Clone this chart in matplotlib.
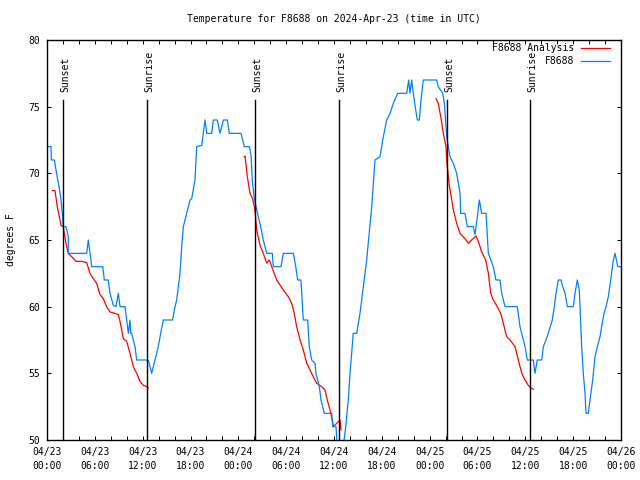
import matplotlib
matplotlib.use('Agg')
import matplotlib.pyplot as plt
from matplotlib.ticker import MultipleLocator

plt.rcParams['font.family'] = 'DejaVu Sans Mono'
plt.rcParams['font.size'] = 7

# hours since 04/23 00:00 UTC, temperature in F
obs_t = [0.16, 0.50, 0.55, 0.92, 1.2, 1.51, 1.76, 1.92, 2.04, 2.38, 2.67, 2.67, 4.98, 5.18, 5.39,
         5.61, 6.99, 7.19, 7.69, 7.90, 8.32, 8.66, 8.94, 9.16, 9.78, 10.0, 10.2, 10.41, 10.5, 10.62,
         11.04, 11.25, 12.71, 13.13, 13.55, 13.96, 14.26, 14.59, 15.74, 16.06, 16.27, 16.68, 16.90,
         17.10, 17.52, 17.94, 18.15, 18.56, 18.78, 19.41, 19.61, 19.82, 20.03, 20.66, 20.86, 21.36,
         21.70, 22.12, 22.62, 22.87, 24.34, 24.75, 25.38, 25.59, 25.75, 25.97, 26.22, 26.5, 26.81,
         27.13, 27.56, 28.26, 28.39, 29.35, 29.64, 30.9, 31.2, 31.45, 31.86, 32.15, 32.7, 32.9,
         33.2, 33.62, 33.74, 34.16, 34.37, 34.78, 35.71, 35.84, 36.25, 36.41, 37.17, 37.47, 37.79,
         38.01, 38.42, 38.85, 39.26, 39.68, 40.1, 40.73, 41.14, 41.77, 42.19, 42.61, 43.03, 43.44,
         43.99, 45.12, 45.37, 45.53, 45.75, 45.95, 46.25, 46.45, 46.7, 47.0, 47.2, 48.88, 49.08,
         49.64, 49.84, 50.14, 50.55, 50.97, 51.39, 51.81, 51.89, 52.43, 52.72, 53.47, 53.69, 53.98,
         54.23, 54.53, 55.07, 55.36, 55.98, 56.32, 56.82, 57.04, 57.45, 58.99, 59.33, 59.96, 60.25,
         61.0, 61.21, 61.5, 62.05, 62.26, 62.59, 62.88, 63.18, 63.38, 63.64, 63.85, 64.14, 64.48,
         64.69, 64.98, 65.27, 66.02, 66.23, 66.52, 66.77, 67.07, 67.27, 67.49, 67.61, 67.9, 68.11,
         68.45, 68.74, 69.03, 69.37, 69.57, 69.87, 70.12, 70.41, 70.71, 71.04, 71.25, 71.46, 71.59,
         72.0]
obs_v = [72, 72, 71, 71, 70, 69, 68, 67, 66, 66, 65.25, 64, 64, 65, 64,
         63, 63, 62, 62, 61, 60.1, 60, 61, 60, 60, 59, 58, 59, 58, 58,
         57, 56, 56, 55, 56, 57, 58, 59, 59, 60, 60.5, 62.5, 64.5,
         66, 67, 68, 68.1, 69.5, 72, 72.1, 73, 74, 73, 73, 74, 74,
         73, 74, 74, 73, 73, 72, 72, 71.4, 69.5, 68.25, 67.5, 66.75, 66,
         65, 64, 64, 63, 63, 64, 64, 63, 62, 62, 59, 59, 57,
         56, 55.75, 55, 54, 53, 52, 52, 51, 51, 49.5, 49.5, 51, 53,
         55, 58, 58, 59.5, 61.5, 63.5, 67.5, 71, 71.25, 72.75, 74, 74.5, 75.25,
         76, 76, 77, 76, 77, 76, 74.75, 74, 74, 76, 77, 77, 76.5,
         76, 75.25, 72.75, 71.25, 70.75, 70, 68.5, 67, 67, 66, 66, 65.4, 66.75,
         68, 67, 67, 64, 63, 62, 62, 61, 60, 60, 58.5, 57, 56,
         56, 55, 56, 56, 57, 57.5, 58, 58.6, 59, 60, 61, 62, 62,
         61.5, 61, 60, 60, 61, 62, 61.25, 57, 55, 53.5, 52, 52, 53,
         54.5, 56.25, 57, 57.75, 58.5, 59.5, 60, 60.75, 62, 63.5, 64, 63.4, 63,
         63]

ana1_t = [0.66, 1.0, 1.29, 1.54, 1.76, 2.04, 2.38, 2.67, 3.10, 3.64, 4.35, 4.98, 5.39, 5.81,
          6.23, 6.65, 7.06, 7.49, 7.90, 8.53, 8.94, 9.16, 9.37, 9.57, 10.0, 10.41, 10.83, 11.25,
          11.67, 12.08, 12.51, 12.71]
ana1_v = [68.7, 68.7, 67.5, 66.75, 66.1, 66, 64.75, 64, 63.75, 63.4, 63.4, 63.3, 62.5, 62.1,
          61.75, 60.9, 60.6, 60, 59.6, 59.5, 59.4, 58.9, 58.25, 57.6, 57.4, 56.5, 55.5, 55.0,
          54.4, 54.1, 54.0, 53.9]
ana2_t = [24.75, 24.84, 25.13, 25.46, 25.80, 26.09, 26.30, 26.72, 27.13, 27.56, 27.89, 28.19,
          28.81, 29.64, 30.27, 30.69, 30.98, 31.32, 31.74, 32.15, 32.58, 32.99, 33.40, 33.83,
          34.46, 34.87, 35.16, 35.50, 35.79, 35.91, 36.34, 36.75, 36.88]
ana2_v = [71.25, 71.3, 69.75, 68.5, 68.1, 67.25, 65.75, 64.6, 64, 63.25, 63.5, 63,
          62, 61.25, 60.75, 60.25, 59.6, 58.5, 57.5, 56.75, 55.75, 55.25, 54.75, 54.25,
          54, 53.75, 53, 52.25, 51.5, 51, 51.25, 51.5, 50.75]
ana3_t = [48.80, 49.08, 49.39, 49.71, 50.05, 50.21, 50.43, 50.77, 50.97, 51.39, 51.81, 52.43,
          52.85, 53.27, 53.81, 54.10, 54.53, 55.03, 55.36, 55.66, 55.98, 56.48, 56.91, 57.24,
          57.65, 58.08, 58.71, 59.12, 59.55, 59.96, 60.37, 60.71, 61.0]
ana3_v = [75.6, 75.25, 74.25, 73, 72, 70.5, 69.25, 68, 67.25, 66.25, 65.5, 65.1,
          64.75, 65, 65.3, 64.9, 64.1, 63.5, 62.5, 61, 60.5, 60, 59.5, 58.75,
          57.75, 57.5, 57, 56, 55, 54.5, 54.1, 53.9, 53.8]

sun_t = [2.05, 12.6, 26.12, 36.65, 50.2, 60.6]
sun_lbl = ['Sunset', 'Sunrise', 'Sunset', 'Sunrise', 'Sunset', 'Sunrise']

xtick_lbl = ['04/23\n00:00', '04/23\n06:00', '04/23\n12:00', '04/23\n18:00',
             '04/24\n00:00', '04/24\n06:00', '04/24\n12:00', '04/24\n18:00',
             '04/25\n00:00', '04/25\n06:00', '04/25\n12:00', '04/25\n18:00',
             '04/26\n00:00']

fig = plt.figure(figsize=(6.4, 4.8), dpi=100)
ax = fig.add_axes([47/640, 40/480, 574/640, 400/480])
ax.set_xlim(0, 72)
ax.set_ylim(50, 80)

red = '#ff0000'
blue = '#0080ff'
ax.plot(ana1_t, ana1_v, color=red, lw=0.9, label='F8688 Analysis')
ax.plot(ana2_t, ana2_v, color=red, lw=0.9)
ax.plot(ana3_t, ana3_v, color=red, lw=0.9)
ax.plot(obs_t, obs_v, color=blue, lw=0.9, label='F8688')

for t, lbl in zip(sun_t, sun_lbl):
    ax.plot([t, t], [50, 75.5], color='black', lw=1.0)
    ax.text(t + 0.25, 76.1, lbl, rotation=90, ha='center', va='bottom', fontsize=7)

ax.set_xticks(range(0, 73, 6))
ax.set_xticklabels(xtick_lbl, linespacing=1.5)
ax.xaxis.set_minor_locator(MultipleLocator(2))
ax.set_yticks(range(50, 81, 5))
ax.tick_params(which='both', direction='in', length=3, width=0.7, top=True, right=True)
ax.tick_params(axis='x', pad=5)
ax.tick_params(axis='y', pad=5)
for s in ax.spines.values():
    s.set_linewidth(1.0)

fig.text(334/640, 1 - 19/480, 'Temperature for F8688 on 2024-Apr-23 (time in UTC)',
         ha='center', va='center', fontsize=7)
fig.text(11/640, 0.5, 'degrees F', rotation=90, ha='center', va='center', fontsize=7)

ax.legend(loc='upper right', bbox_to_anchor=(1 - 11/574, 1 - 3/400), frameon=False,
          markerfirst=False, handlelength=3.0, handletextpad=0.7, labelspacing=0.35,
          borderaxespad=0, borderpad=0, fontsize=7)

fig.savefig('out.png', dpi=100)
